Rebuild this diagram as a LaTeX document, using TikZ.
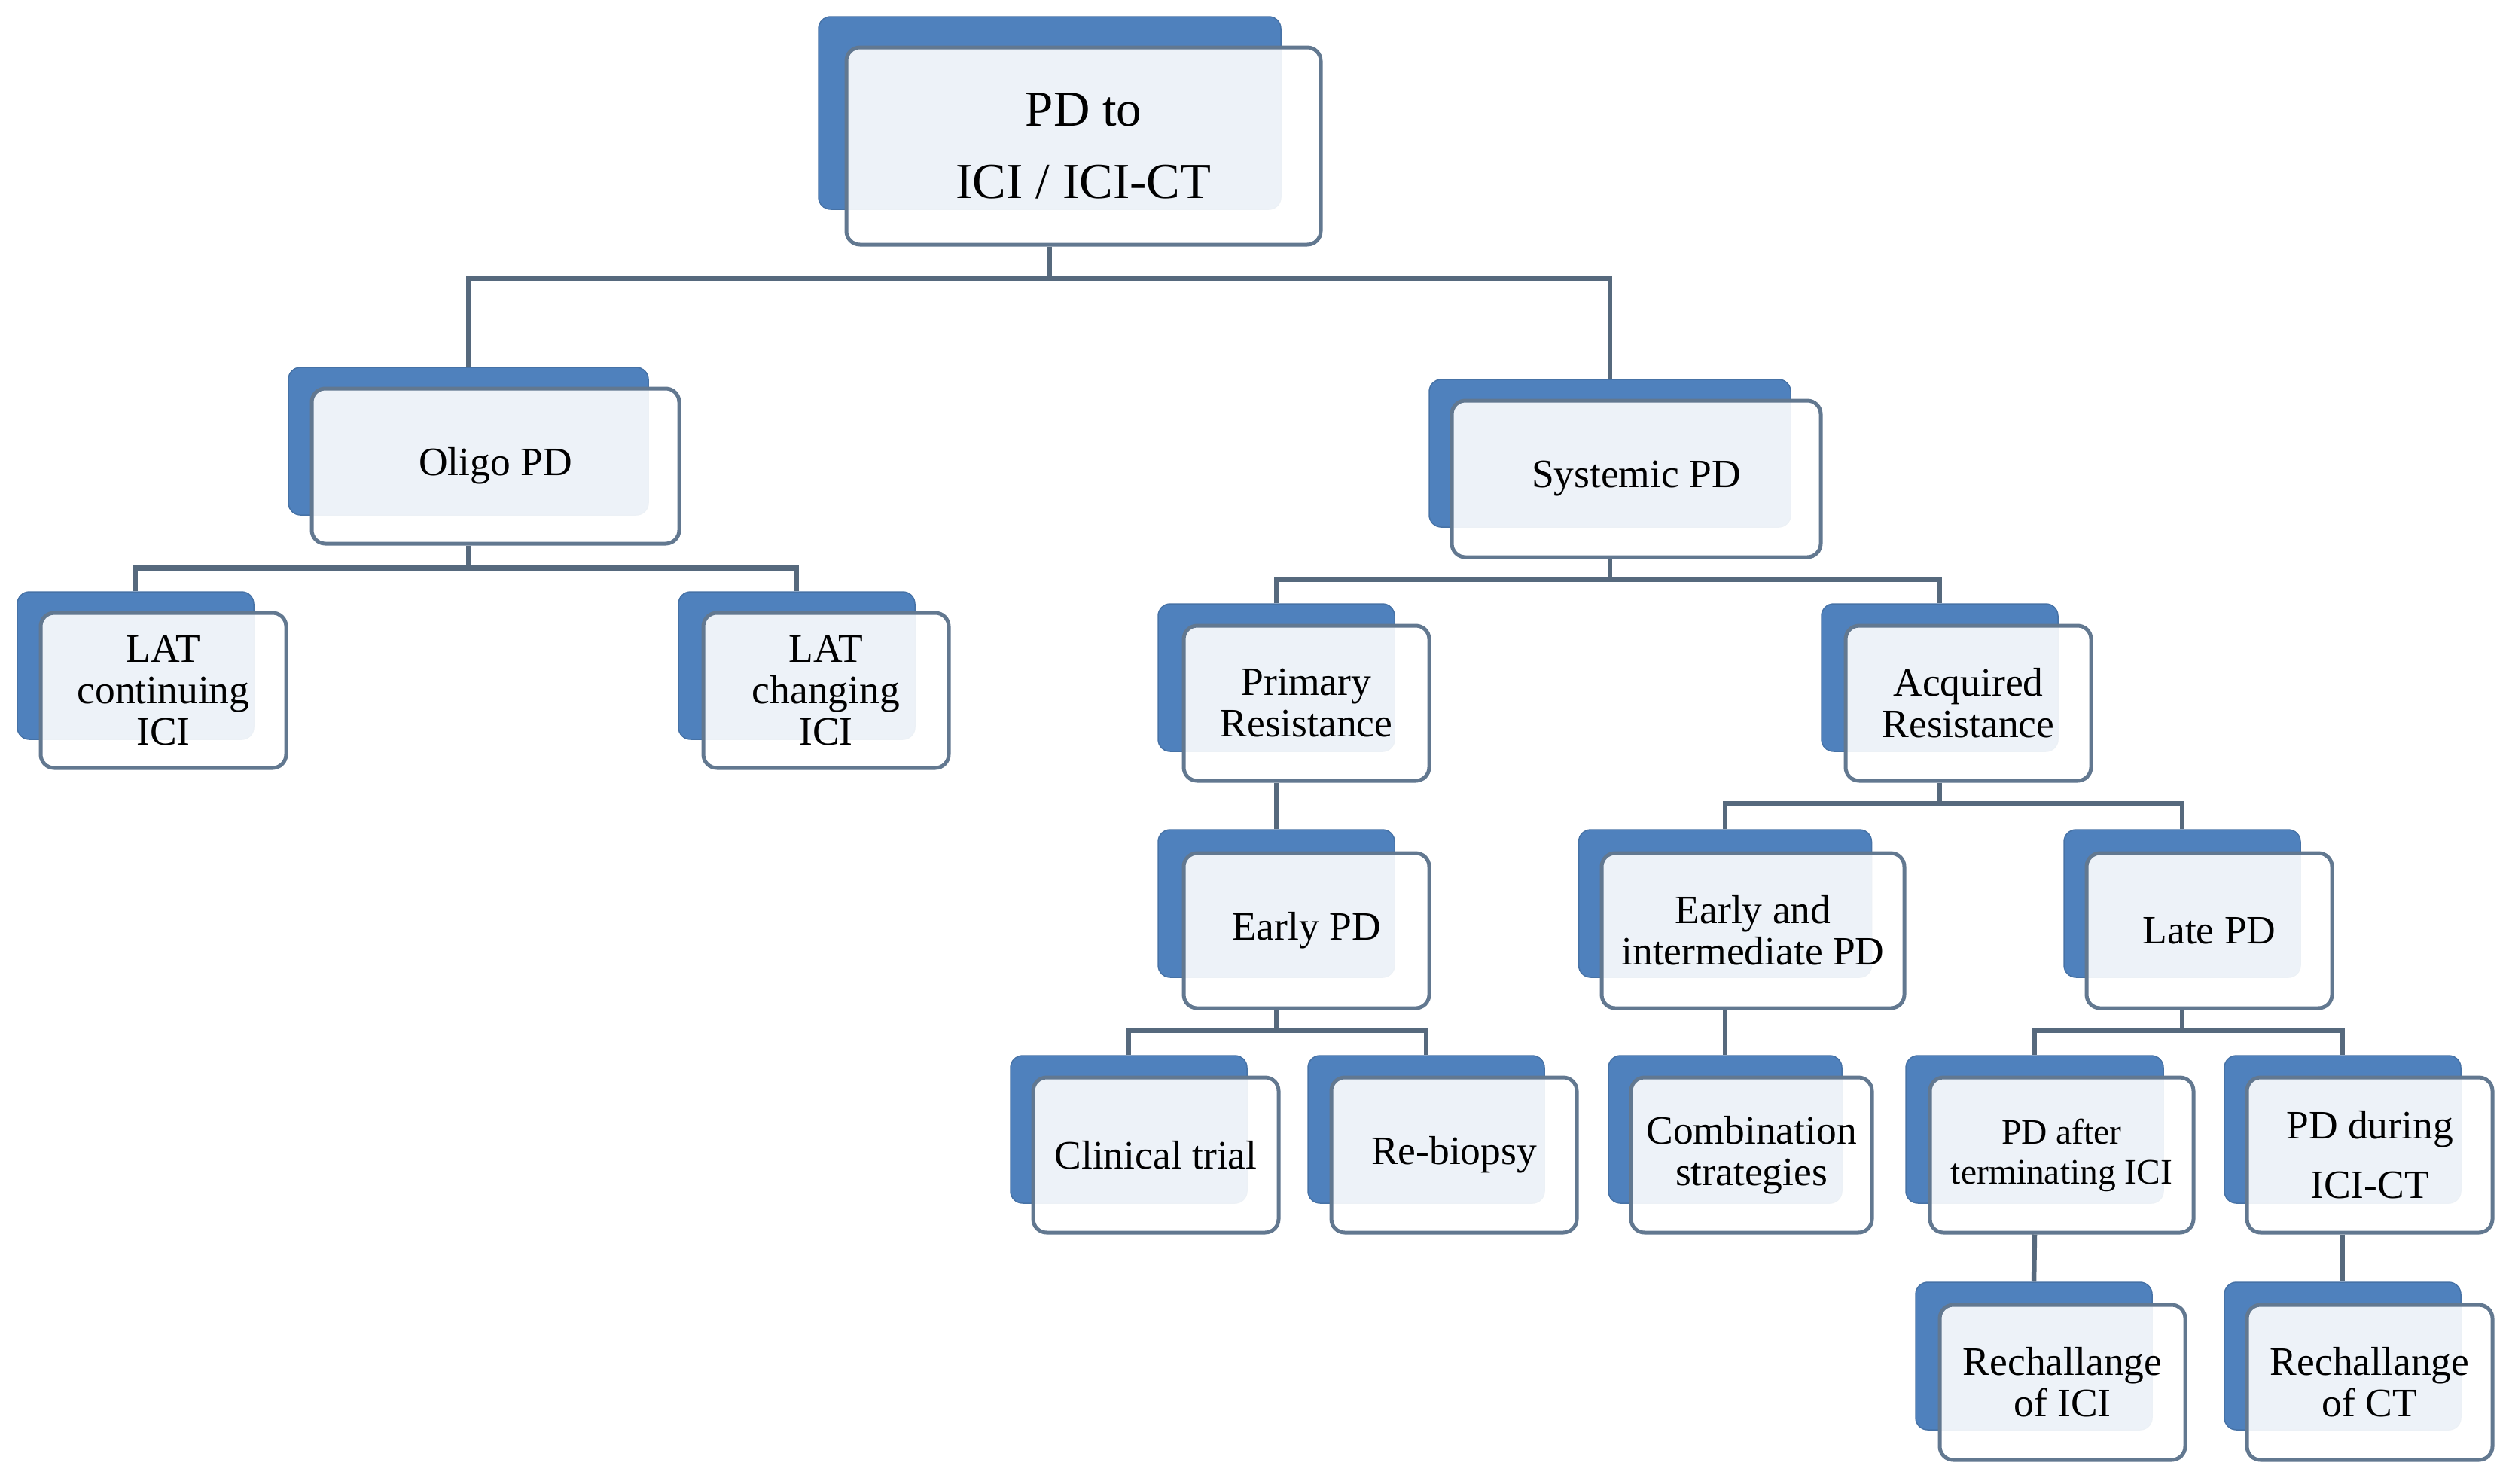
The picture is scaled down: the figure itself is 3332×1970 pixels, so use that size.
\documentclass[tikz,border=0pt]{standalone}
\usepackage{fontspec}
\setmainfont{Liberation Serif}
\usepackage{tikz}
\definecolor{boxblue}{HTML}{4F81BD}
\definecolor{boxline}{HTML}{627890}
\definecolor{linkgray}{HTML}{56697D}
\tikzset{
  backbox/.style={rectangle, rounded corners=16pt, fill=boxblue, draw=boxblue!88!black,
    line width=1.5pt, minimum width=314pt, minimum height=196pt, inner sep=0pt},
  frontbox/.style={rectangle, rounded corners=18pt, fill=white, fill opacity=0.9,
    text opacity=1, draw=boxline, line width=5pt, minimum width=326pt,
    minimum height=206pt, inner sep=0pt, align=center,
    font=\fontsize{53.5}{55}\selectfont},
  link/.style={draw=linkgray, line width=6.5pt}
}
\begin{document}
\begin{tikzpicture}[x=1pt,y=-1pt]
                \useasboundingbox (0,0) rectangle (3332,1970);
                \node [backbox, minimum width=614pt, minimum height=256pt] (rootB) at (1394,150) {};
                \node [frontbox, minimum width=630pt, minimum height=262pt, font=\fontsize{67}{96}\selectfont] (root) at (1439,194) {PD to\\ICI / ICI-CT};
                \node [backbox, minimum width=478pt] (oligoB) at (622,586) {};
                \node [frontbox, minimum width=488pt] (oligo) at (658,619) {Oligo PD};
                \node [backbox] (latcontB) at (180,884) {};
                \node [frontbox] (latcont) at (217,917) {LAT\\continuing\\ICI};
                \node [backbox] (latchgB) at (1058,884) {};
                \node [frontbox] (latchg) at (1097,917) {LAT\\changing\\ICI};
                \node [backbox, minimum width=480pt] (systemicB) at (2138,602) {};
                \node [frontbox, minimum width=490pt, minimum height=208pt] (systemic) at (2173,636) {Systemic PD};
                \node [backbox] (primaryB) at (1695,900) {};
                \node [frontbox] (primary) at (1735,934) {Primary\\Resistance};
                \node [backbox] (acquiredB) at (2576,900) {};
                \node [frontbox] (acquired) at (2614,934) {Acquired\\Resistance};
                \node [backbox] (earlyB) at (1695,1200) {};
                \node [frontbox] (early) at (1735,1236) {Early PD};
                \node [backbox, minimum width=389pt] (earlyintB) at (2291,1200) {};
                \node [frontbox, minimum width=402pt] (earlyint) at (2328,1236) {Early and\\intermediate PD};
                \node [backbox] (lateB) at (2898,1200) {};
                \node [frontbox] (late) at (2934,1236) {Late PD};
                \node [backbox] (clinicalB) at (1499,1500) {};
                \node [frontbox] (clinical) at (1535,1534) {Clinical trial};
                \node [backbox] (rebiopsyB) at (1894,1500) {};
                \node [frontbox] (rebiopsy) at (1931,1534) {Re-biopsy};
                \node [backbox, minimum width=310pt] (comboB) at (2291,1500) {};
                \node [frontbox, minimum width=320pt] (combo) at (2326,1534) {Combination\\strategies};
                \node [backbox, minimum width=342pt] (afterB) at (2702,1500) {};
                \node [frontbox, minimum width=350pt, font=\fontsize{47.5}{53}\selectfont] (after) at (2738,1534) {PD after\\terminating ICI};
                \node [backbox] (duringB) at (3111,1500) {};
                \node [frontbox, font=\fontsize{53.5}{79}\selectfont] (during) at (3147,1534) {PD during\\ICI-CT};
                \node [backbox] (rechiciB) at (2701,1801) {};
                \node [frontbox] (rechici) at (2739,1836) {Rechallange\\of ICI};
                \node [backbox] (rechctB) at (3111,1801) {};
                \node [frontbox] (rechct) at (3147,1836) {Rechallange\\of CT};
                \coordinate (rootbus) at ([yshift=-42pt]rootB |- root.south);
                \coordinate (oligobus) at ([yshift=-30pt]oligoB |- oligo.south);
                \coordinate (systemicbus) at ([yshift=-27pt]systemicB |- systemic.south);
                \coordinate (acquiredbus) at ([yshift=-28pt]acquiredB |- acquired.south);
                \coordinate (earlybus) at ([yshift=-27pt]earlyB |- early.south);
                \coordinate (latebus) at ([yshift=-27pt]lateB |- late.south);
                \draw [link] (rootB |- root.south) -- (rootbus);
                \draw [link] (oligoB.north) |- (rootbus) -| (systemicB.north);
                \draw [link] (oligoB |- oligo.south) -- (oligobus);
                \draw [link] (latcontB.north) |- (oligobus) -| (latchgB.north);
                \draw [link] (systemicB |- systemic.south) -- (systemicbus);
                \draw [link] (primaryB.north) |- (systemicbus) -| (acquiredB.north);
                \draw [link] (primaryB |- primary.south) -- (earlyB.north);
                \draw [link] (acquiredB |- acquired.south) -- (acquiredbus);
                \draw [link] (earlyintB.north) |- (acquiredbus) -| (lateB.north);
                \draw [link] (earlyB |- early.south) -- (earlybus);
                \draw [link] (clinicalB.north) |- (earlybus) -| (rebiopsyB.north);
                \draw [link] (earlyintB |- earlyint.south) -- (comboB.north);
                \draw [link] (lateB |- late.south) -- (latebus);
                \draw [link] (afterB.north) |- (latebus) -| (duringB.north);
                \draw [link] (afterB |- after.south) -- (rechiciB.north);
                \draw [link] (duringB |- during.south) -- (rechctB.north);
            \end{tikzpicture}
\end{document}
